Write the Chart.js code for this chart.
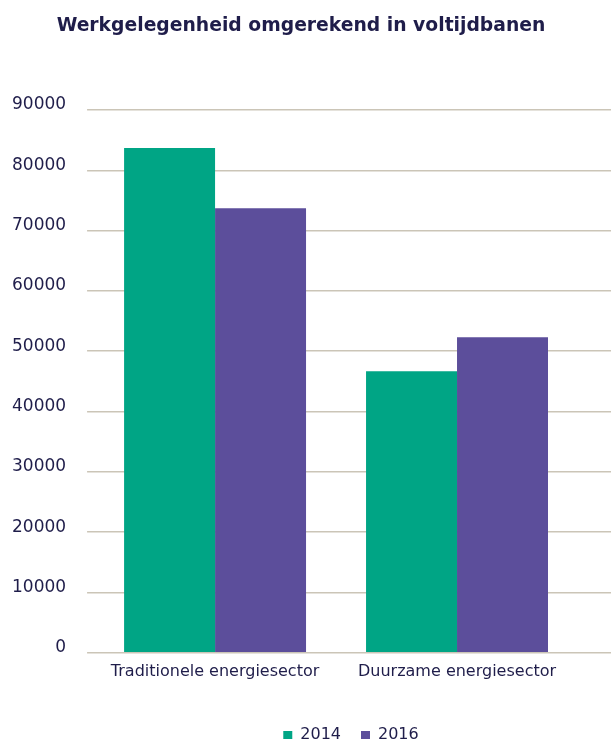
<!DOCTYPE html>
<html><head><meta charset="utf-8">
<script src="https://cdn.jsdelivr.net/npm/chart.js@4/dist/chart.umd.min.js"></script>
<style>html,body{margin:0;padding:0;background:#fff;}#wrap{width:611px;height:743px;position:relative;}</style>
</head><body><div id="wrap"><canvas id="c"></canvas></div>
<script>
const categories = ['Traditionele energiesector', 'Duurzame energiesector'];
const seriesNames = ['2014', '2016'];
const values2014 = [83700, 46700];
const values2016 = [73700, 52300];
const yMin = 0, yMax = 90000, yStep = 10000;
const chartTitle = 'Werkgelegenheid omgerekend in voltijdbanen';

const textColor = '#1f1d4a';
const gridColor = '#cbc5b7';

const legendShift = {
  id: 'legendShift',
  afterLayout(chart) {
    const lg = chart.legend;
    if (!lg) return;
    const dx = 50, dy = 17;
    lg.left += dx; lg.right += dx; lg.top += dy; lg.bottom += dy;
  }
};

new Chart(document.getElementById('c'), {
  type: 'bar',
  data: {
    labels: categories,
    datasets: [
      { label: seriesNames[0], data: values2014, backgroundColor: '#00a585', borderWidth: 0 },
      { label: seriesNames[1], data: values2016, backgroundColor: '#5c4e9b', borderWidth: 0 }
    ]
  },
  options: {
    responsive: true,
    maintainAspectRatio: false,
    animation: false,
    layout: { padding: { left: -9, right: 0, top: 0, bottom: 7 } },
    datasets: { bar: { categoryPercentage: 0.752, barPercentage: 1 } },
    plugins: {
      title: {
        display: true, text: chartTitle, color: textColor,
        font: { family: 'DejaVu Sans', size: 18.75, weight: 'bold' },
        padding: { top: 15, bottom: 72.5 }
      },
      legend: {
        position: 'bottom',
        labels: {
          color: textColor, boxWidth: 9, boxHeight: 8, padding: 20,
          font: { family: 'DejaVu Sans', size: 16 }
        }
      },
      tooltip: { enabled: false }
    },
    scales: {
      x: {
        grid: { display: false, drawTicks: false }, border: { display: false },
        ticks: { color: textColor, padding: 9, maxRotation: 0, font: { family: 'DejaVu Sans', size: 16 } }
      },
      y: {
        position: 'left', min: yMin, max: yMax,
        border: { display: false },
        grid: { color: gridColor, lineWidth: 1.5, drawTicks: true, tickLength: 7 },
        ticks: { stepSize: yStep, color: textColor, padding: 21, labelOffset: -5,
                 font: { family: 'DejaVu Sans', size: 17 }, callback: v => String(v) }
      },
      y2: {
        position: 'right', min: yMin, max: yMax,
        border: { display: false },
        grid: { color: gridColor, lineWidth: 1.5, drawOnChartArea: false, drawTicks: true, tickLength: 33 },
        ticks: { stepSize: yStep, display: false }
      }
    }
  },
  plugins: [legendShift]
});
</script></body></html>
